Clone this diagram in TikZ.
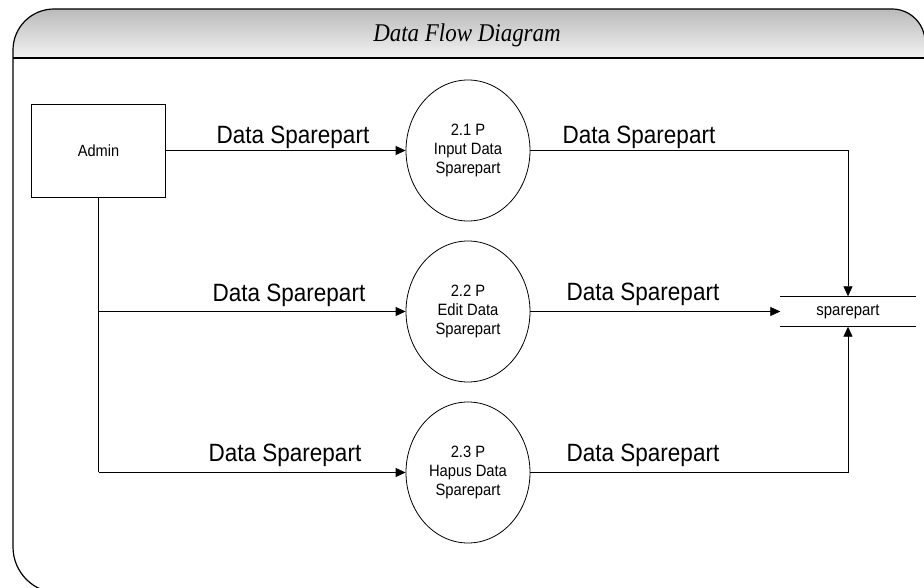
\documentclass[tikz,border=0pt]{standalone}
\usepackage{fontspec}
\setmainfont{Liberation Sans}[FakeStretch=0.9]
\newfontfamily\titlefont{Liberation Serif}[FakeStretch=0.9]
\usetikzlibrary{shapes.geometric,arrows.meta}
\begin{document}
\begin{tikzpicture}[x=1pt,y=1pt,
  frameline/.style={line width=1.2pt,black},
  entity/.style={draw,line width=0.8pt,rectangle,minimum width=134pt,minimum height=93pt,inner sep=0pt,font=\fontsize{16.2}{19}\selectfont},
  process/.style={draw,line width=0.8pt,ellipse,minimum width=124pt,minimum height=141pt,inner sep=0pt,align=center,font=\fontsize{16.4}{19}\selectfont},
  storebox/.style={rectangle,minimum width=135pt,minimum height=30pt,inner sep=0pt,font=\fontsize{16.6}{18}\selectfont},
  flow/.style={line width=0.8pt,-{Triangle[length=10pt,width=9pt]}},
  plainline/.style={line width=0.8pt},
  flowlabel/.style={anchor=base,inner sep=0pt,font=\fontsize{25}{28}\selectfont}
]
\useasboundingbox (0,0) rectangle (924,588);
\clip (0,0) rectangle (924,588);
% header
\shade[top color=black!27,bottom color=black!5]
  (13,530) -- (13,538) arc[start angle=180,end angle=90,radius=41] -- (892,579)
  arc[start angle=90,end angle=0,radius=33] -- (925,530) -- cycle;
\draw[frameline] (13,538) arc[start angle=180,end angle=90,radius=41] -- (892,579)
  arc[start angle=90,end angle=0,radius=33] -- (925,-10);
\draw[frameline] (13,538) -- (13,41) arc[start angle=180,end angle=270,radius=46] -- (930,-5);
\draw[frameline] (13,530) -- (925,530);
\node[font=\titlefont\itshape\fontsize{25.5}{28}\selectfont] (title) at (467,553) {Data Flow Diagram};

% nodes
\node[entity] (admin) at (98.5,437.5) {Admin};
\node[process] (c1) at (468,437.5) {2.1 P\\Input Data\\Sparepart};
\node[process] (c2) at (468,276.5) {2.2 P\\Edit Data\\Sparepart};
\node[process] (c3) at (468,115.5) {2.3 P\\Hapus Data\\Sparepart};
\node[storebox] (store) at (848,276.5) {sparepart};
\draw[plainline] (store.north west) -- (store.north east);
\draw[plainline] (store.south west) -- (store.south east);

% connectors
\draw[flow] (admin.east) -- (c1.west);
\draw[plainline] (admin.south) -- (admin.south |- c3.west);
\draw[flow] (admin.south |- c2.west) -- (c2.west);
\draw[flow] (admin.south |- c3.west) -- (c3.west);
\draw[flow] (c1.east) -| (store.north);
\draw[flow] (c2.east) -- (store.west);
\draw[flow] (c3.east) -| (store.south);

% labels
\node[flowlabel] (l1) at (293,444) {Data Sparepart};
\node[flowlabel] (l2) at (289,286) {Data Sparepart};
\node[flowlabel] (l3) at (639,444) {Data Sparepart};
\node[flowlabel] (l4) at (643,287) {Data Sparepart};
\node[flowlabel] (l5) at (285,126) {Data Sparepart};
\node[flowlabel] (l6) at (643,126) {Data Sparepart};
\end{tikzpicture}
\end{document}
